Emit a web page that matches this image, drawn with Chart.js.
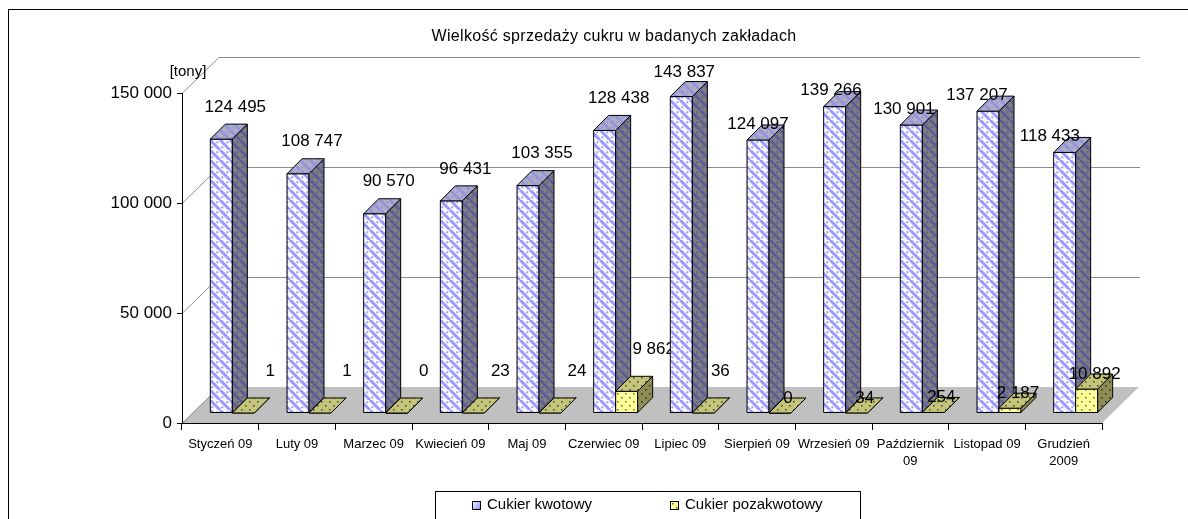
<!DOCTYPE html>
<html><head><meta charset="utf-8">
<script src="https://cdn.jsdelivr.net/npm/chart.js@4.4.0/dist/chart.umd.min.js"></script>
<style>html,body{margin:0;padding:0;background:#fff;}#wrap{width:1188px;height:519px;position:relative;overflow:hidden;}</style>
</head><body><div id="wrap"><canvas id="c" width="1188" height="519"></canvas></div>
<script>
const categories = ["Styczeń 09","Luty 09","Marzec 09","Kwiecień 09","Maj 09","Czerwiec 09","Lipiec 09","Sierpień 09","Wrzesień 09",["Październik","09"],"Listopad 09",["Grudzień","2009"]];
const quotaSugar = [124495,108747,90570,96431,103355,128438,143837,124097,139266,130901,137207,118433];
const extraSugar = [1,1,0,23,24,9862,36,0,34,254,2187,10892];
const yTicks = [0,50000,100000,150000];
const seriesNames = ["Cukier kwotowy","Cukier pozakwotowy"];
const titleText = "Wielkość sprzedaży cukru w badanych zakładach";
const unitLabel = "[tony]";

const FONT = '"Liberation Sans", Arial, sans-serif';
const fmt = v => String(v).replace(/\B(?=(\d{3})+(?!\d))/g, ' ');

const canvas = document.getElementById('c');
const ctx = canvas.getContext('2d');

function makePattern(w, h, bg, draw) {
  const c = document.createElement('canvas'); c.width = w; c.height = h;
  const g = c.getContext('2d'); g.fillStyle = bg; g.fillRect(0, 0, w, h); draw(g);
  return ctx.createPattern(c, 'repeat');
}
function stripes(bg, fg, dot) {
  return makePattern(10, 10, bg, g => {
    g.strokeStyle = fg; g.lineWidth = 3;
    for (const o of [-10, 0, 10]) { g.beginPath(); g.moveTo(o, 0); g.lineTo(o + 10, 10); g.stroke(); }
    g.fillStyle = dot;
    g.fillRect(6.3, 1.3, 2, 2); g.fillRect(1.3, 6.3, 2, 2);
  });
}
function dots(bg, fg) {
  return makePattern(8, 8, bg, g => {
    g.fillStyle = fg; g.fillRect(1, 1, 1.6, 1.6); g.fillRect(5, 5, 1.6, 1.6);
  });
}
const P = {
  front1: stripes('#ffffff', '#9999ff', '#9999ff'),
  side1: stripes('#808080', '#5c5c99', '#5c5c99'),
  top1: stripes('#b0b0c4', '#9494dc', '#9494dc'),
  front2: dots('#ffff99', '#7a7a3c'),
  side2: dots('#8c8c54', '#3c3c20'),
  top2: dots('#c4c47a', '#55552c')
};

const DX = 12, DY = -10, DEPTH = 15, WX = 37, WY = -36;

function lblOffset(ds, k) {
  if (ds === 0) {
    const dx = k <= 5 ? 14 : (k === 6 ? 3 : -3.7 * (k - 7));
    const dy = k <= 5 ? 17 : (k === 6 ? 9 : 1);
    return [dx, dy];
  }
  const dx = k <= 5 ? 27 : (k === 6 ? 17 : 8);
  const dy = k <= 6 ? 27 : 0;
  return [dx, dy];
}

function poly(c, pts, fill, stroke) {
  c.beginPath(); c.moveTo(pts[0][0], pts[0][1]);
  for (let i = 1; i < pts.length; i++) c.lineTo(pts[i][0], pts[i][1]);
  c.closePath();
  if (fill) { c.fillStyle = fill; c.fill(); }
  if (stroke) { c.strokeStyle = stroke; c.lineWidth = 1; c.stroke(); }
}

const threeD = {
  id: 'threeD',
  beforeDraw(chart) {
    const c = chart.ctx, a = chart.chartArea, ys = chart.scales.y;
    c.save();
    const y0 = ys.getPixelForValue(0);
    poly(c, [[a.left, y0], [a.right, y0], [a.right + WX, y0 + WY], [a.left + WX, y0 + WY]], '#c0c0c0', null);
    c.strokeStyle = '#8c8c8c'; c.lineWidth = 1;
    yTicks.forEach(v => {
      const y = Math.round(ys.getPixelForValue(v)) + 0.5;
      c.beginPath(); c.moveTo(a.left, y); c.lineTo(a.left + WX, y + WY);
      if (v > 0) c.lineTo(a.right + WX + 1, y + WY);
      c.stroke();
    });
    c.restore();
  },
  afterDatasetsDraw(chart) {
    const c = chart.ctx;
    c.save();
    const metas = [chart.getDatasetMeta(0), chart.getDatasetMeta(1)];
    const faces = [['front1', 'side1', 'top1'], ['front2', 'side2', 'top2']];
    for (let k = 0; k < chart.data.labels.length; k++) {
      metas.forEach((m, ds) => {
        const [f, s, t] = faces[ds];
        const p = m.data[k].getProps(['x', 'y', 'base', 'width'], true);
        const l = p.x - p.width / 2 + DX, r = p.x + p.width / 2 + DX;
        const top = p.y + DY, bot = p.base + DY;
        poly(c, [[l, top], [r, top], [r, bot], [l, bot]], P[f], '#000');
        poly(c, [[r, top], [r + DEPTH, top - DEPTH], [r + DEPTH, bot - DEPTH], [r, bot]], P[s], '#000');
        poly(c, [[l, top], [l + DEPTH, top - DEPTH], [r + DEPTH, top - DEPTH], [r, top]], P[t], '#000');
      });
      c.font = '17px ' + FONT; c.fillStyle = '#000'; c.textAlign = 'center'; c.textBaseline = 'middle';
      metas.forEach((m, ds) => {
        const p = m.data[k].getProps(['x', 'y'], true);
        const fx = p.x + DX, top = p.y + DY - DEPTH;
        const [ox, oy] = lblOffset(ds, k);
        c.fillText(fmt(chart.data.datasets[ds].data[k]), fx + ox, top - oy);
      });
    }
    c.restore();
  },
  afterDraw(chart) {
    const c = chart.ctx;
    c.save();
    c.fillStyle = '#000'; c.textBaseline = 'middle';
    c.font = '16px ' + FONT; c.textAlign = 'center';
    try { c.letterSpacing = '0.3px'; } catch (e) {}
    c.fillText(titleText, 614, 37);
    try { c.letterSpacing = '0px'; } catch (e) {}
    c.font = '15px ' + FONT;
    c.fillText(unitLabel, 188, 72);
    // legend
    c.strokeStyle = '#000'; c.lineWidth = 1;
    c.strokeRect(435.5, 491.5, 425, 60);
    c.font = '15px ' + FONT; c.textAlign = 'left';
    const g = c.createLinearGradient(472, 501, 481, 510);
    g.addColorStop(0, '#ffffff'); g.addColorStop(1, '#8080ff');
    c.fillStyle = g; c.fillRect(472.5, 501.5, 8, 8); c.strokeRect(472.5, 501.5, 8, 8);
    c.fillStyle = '#ffff99'; c.fillRect(670.5, 501.5, 8, 8); c.strokeRect(670.5, 501.5, 8, 8);
    c.fillStyle = '#555'; c.fillRect(672, 503, 1.5, 1.5); c.fillRect(676, 507, 1.5, 1.5);
    c.fillStyle = '#000';
    c.fillText(seriesNames[0], 487, 505);
    c.fillText(seriesNames[1], 685, 505);
    // outer border
    c.strokeRect(8.5, 9.5, 1200, 560);
    c.restore();
  }
};

new Chart(canvas, {
  type: 'bar',
  data: {
    labels: categories,
    datasets: [
      { label: seriesNames[0], data: quotaSugar, backgroundColor: 'rgba(0,0,0,0)', borderWidth: 0 },
      { label: seriesNames[1], data: extraSugar, backgroundColor: 'rgba(0,0,0,0)', borderWidth: 0 }
    ]
  },
  options: {
    responsive: false, animation: false, devicePixelRatio: 1,
    layout: { padding: { left: 0, top: 93, right: 86, bottom: 0 } },
    categoryPercentage: 44 / 76.67, barPercentage: 1,
    plugins: { legend: { display: false }, title: { display: false }, tooltip: { enabled: false } },
    scales: {
      y: {
        min: 0, max: 150000,
        afterBuildTicks: s => { s.ticks = yTicks.map(v => ({ value: v })); },
        afterFit: s => { s.width = 182; },
        ticks: { callback: v => fmt(v), font: { family: FONT, size: 17 }, color: '#000', padding: 5 },
        grid: { drawOnChartArea: false, tickLength: 5, color: '#000' },
        border: { color: '#000' }
      },
      x: {
        offset: true,
        afterFit: s => { s.height = 96; },
        ticks: { font: { family: FONT, size: 13, lineHeight: 1.38 }, color: '#000', padding: 5, autoSkip: false, maxRotation: 0, minRotation: 0 },
        grid: { offset: true, drawOnChartArea: false, tickLength: 7, color: '#000' },
        border: { color: '#000' }
      }
    }
  },
  plugins: [threeD]
});
</script></body></html>
